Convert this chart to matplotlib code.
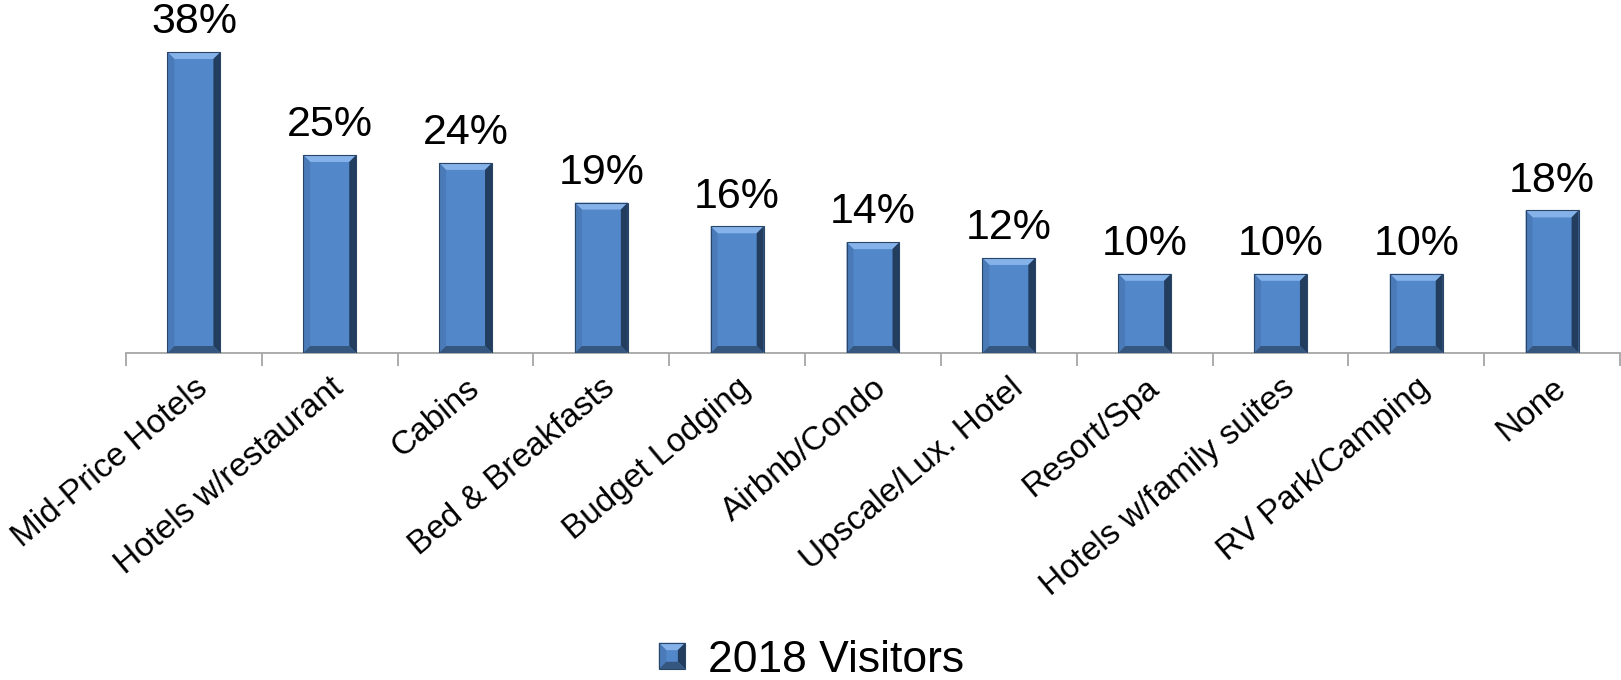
import matplotlib
matplotlib.use("Agg")
import matplotlib.pyplot as plt
from matplotlib.patches import Polygon, Rectangle
from matplotlib.legend_handler import HandlerBase

plt.rcParams['font.family'] = ['Liberation Sans', 'DejaVu Sans']

categories = ['Mid-Price Hotels', 'Hotels w/restaurant', 'Cabins', 'Bed & Breakfasts',
              'Budget Lodging', 'Airbnb/Condo', 'Upscale/Lux. Hotel', 'Resort/Spa',
              'Hotels w/family suites', 'RV Park/Camping', 'None']
visitors_2018 = [38, 25, 24, 19, 16, 14, 12, 10, 10, 10, 18]
series_name = '2018 Visitors'

FACE = '#5288CA'
TOP = '#86B2EA'
LEFT = '#4A7BB8'
RIGHT = '#223D5E'
BOTTOM = '#35577F'
EDGE = '#2A4566'


def bevel_polys(x0, x1, y0, y1, bx, by):
    # sloped edges of a beveled block: top, left, right, bottom
    return [
        ([(x0, y1), (x1, y1), (x1 - bx, y1 - by), (x0 + bx, y1 - by)], TOP),
        ([(x0, y0), (x0 + bx, y0 + by), (x0 + bx, y1 - by), (x0, y1)], LEFT),
        ([(x1, y0), (x1, y1), (x1 - bx, y1 - by), (x1 - bx, y0 + by)], RIGHT),
        ([(x0, y0), (x1, y0), (x1 - bx, y0 + by), (x0 + bx, y0 + by)], BOTTOM),
    ]


class BevelHandler(HandlerBase):
    def create_artists(self, legend, orig_handle, xdescent, ydescent,
                       width, height, fontsize, trans):
        s = height * 0.85
        x0 = -xdescent + (width - s) / 2
        y0 = -ydescent + (height - s) / 2
        arts = [Rectangle((x0, y0), s, s, facecolor=FACE, edgecolor='none', transform=trans)]
        b = s * 0.28
        for pts, c in bevel_polys(x0, x0 + s, y0, y0 + s, b, b):
            arts.append(Polygon(pts, closed=True, facecolor=c, edgecolor='none', transform=trans))
        arts.append(Rectangle((x0, y0), s, s, facecolor='none', edgecolor=EDGE, lw=0.8, transform=trans))
        return arts


fig = plt.figure(figsize=(16.21, 6.8), dpi=100)
ax = fig.add_axes([126 / 1621, 1 - 353 / 680, 1494 / 1621, 320 / 680])

n = len(categories)
xs = list(range(n))
bar_w = 0.39
bars = ax.bar(xs, visitors_2018, width=bar_w, color=FACE, edgecolor='none', zorder=2)
ax.set_xlim(-0.5, n - 0.5)
ax.set_ylim(0, 40.4)

# bevel size in data units (~7 px each way)
bx = 7 / 136
by = 7 / 7.92
for x, v in zip(xs, visitors_2018):
    x0, x1 = x - bar_w / 2, x + bar_w / 2
    for pts, c in bevel_polys(x0, x1, 0, v, bx, by):
        ax.add_patch(Polygon(pts, closed=True, facecolor=c, edgecolor='none', zorder=3))
    ax.add_patch(Rectangle((x0, 0), bar_w, v, facecolor='none', edgecolor=EDGE, lw=0.8, zorder=4))
    ax.annotate(f'{v}%', (x, v), xytext=(0, 7), textcoords='offset points',
                ha='center', va='bottom', fontsize=31, color='black')

for s in ['left', 'right', 'top']:
    ax.spines[s].set_visible(False)
ax.spines['bottom'].set_color('#A6A6A6')
ax.spines['bottom'].set_linewidth(1.3)
ax.set_yticks([])

ax.set_xticks(xs)
ax.set_xticklabels(categories, rotation=40, ha='right', rotation_mode='anchor', fontsize=24)
ax.tick_params(axis='x', which='major', length=0, pad=14)
ax.set_xticks([i - 0.5 for i in range(n + 1)], minor=True)
ax.tick_params(axis='x', which='minor', length=9, width=1.3, color='#A6A6A6')

fig.legend([bars], [series_name], loc='center', bbox_to_anchor=(809 / 1621, 1 - 660 / 680),
           frameon=False, fontsize=32, handler_map={type(bars): BevelHandler()},
           handlelength=0.8, handletextpad=0.4, borderpad=0)

fig.savefig('out.png', dpi=100)
